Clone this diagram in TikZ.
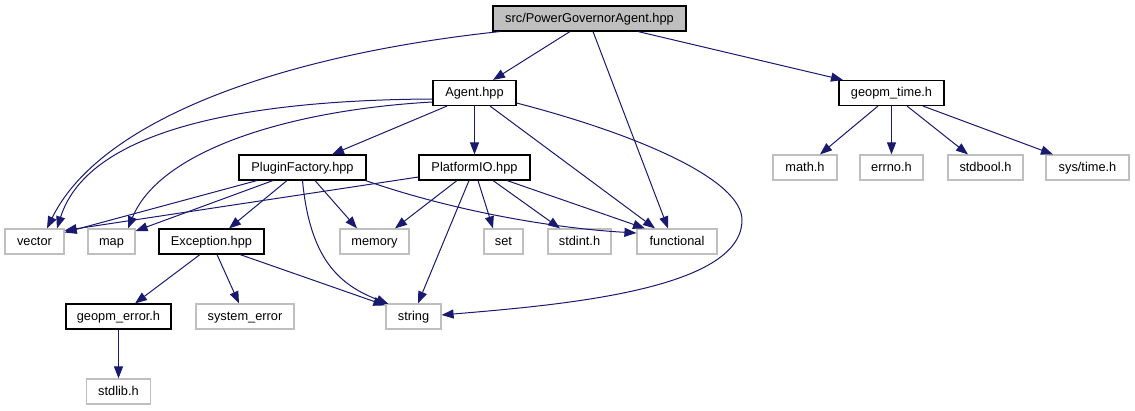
\documentclass[tikz,border=0pt]{standalone}
\usepackage{fontspec}
\setmainfont{Liberation Sans}
\usetikzlibrary{arrows.meta}
\definecolor{edgeblue}{HTML}{191970}
\definecolor{lightgray}{HTML}{BFBFBF}
\begin{document}
\begin{tikzpicture}[x=1pt,y=-1pt,
  box/.style={draw=black, fill=white, line width=1.1pt, minimum height=25pt, inner sep=0pt, text height=10.5pt, text depth=2.5pt, font=\fontsize{12.8}{15}\selectfont},
  ext/.style={box, draw=lightgray, line width=1.2pt},
  dep/.style={draw=edgeblue, line width=1pt, -{Triangle[length=12pt,width=9pt]}}]
\useasboundingbox (0,0) rectangle (1135,411);
% row 1
\node[box, fill=lightgray, minimum width=193pt] (root) at (589.5,18.5) {src/PowerGovernorAgent.hpp};
% row 2
\node[box, minimum width=83pt] (agent) at (474.5,93) {Agent.hpp};
\node[box, minimum width=105pt] (gtime) at (891.5,93) {geopm\_time.h};
% row 3
\node[box, minimum width=127pt] (pf) at (302.5,167.5) {PluginFactory.hpp};
\node[box, minimum width=111pt] (pio) at (474.5,167.5) {PlatformIO.hpp};
\node[ext, minimum width=64pt] (math) at (805,167.5) {math.h};
\node[ext, minimum width=63pt] (errno) at (891.5,167.5) {errno.h};
\node[ext, minimum width=75pt] (stdbool) at (985.5,167.5) {stdbool.h};
\node[ext, minimum width=83pt] (systime) at (1087.5,167.5) {sys/time.h};
% row 4
\node[ext, minimum width=59pt] (vector) at (34.5,241.5) {vector};
\node[ext, minimum width=47pt] (map) at (111.5,241.5) {map};
\node[box, minimum width=105pt] (exc) at (211.5,241.5) {Exception.hpp};
\node[ext, minimum width=69pt] (memory) at (374.5,241.5) {memory};
\node[ext, minimum width=39pt] (set) at (503.5,241.5) {set};
\node[ext, minimum width=63pt] (stdint) at (579.5,241.5) {stdint.h};
\node[ext, minimum width=80pt] (functional) at (677,241.5) {functional};
% row 5
\node[box, minimum width=105pt] (gerr) at (118.5,316.5) {geopm\_error.h};
\node[ext, minimum width=98pt] (syserr) at (245,316.5) {system\_error};
\node[ext, minimum width=55pt] (string) at (413.5,316.5) {string};
% row 6
\node[ext, minimum width=64pt] (stdlib) at (118.5,391.5) {stdlib.h};

% edges from root
\draw[dep] ([xshift=-89.5pt]root.south) .. controls (280,55) and (100,120) .. ([xshift=12.5pt]vector.north);
\draw[dep] ([xshift=-19.5pt]root.south) -- ([xshift=18.5pt]agent.north);
\draw[dep] ([xshift=3.5pt]root.south) -- ([xshift=-9pt]functional.north);
\draw[dep] ([xshift=48.5pt]root.south) -- ([xshift=-48.5pt]gtime.north);
% edges from Agent
\draw[dep] ([yshift=-6pt]agent.west) .. controls (260,100) and (90,125) .. ([xshift=22.5pt]vector.north);
\draw[dep] ([yshift=-9pt]agent.west) .. controls (290,110) and (160,150) .. ([xshift=16.5pt]map.north);
\draw[dep] ([xshift=-27.5pt]agent.south) -- ([xshift=29.5pt]pf.north);
\draw[dep] (agent.south) -- (pio.north);
\draw[dep] ([xshift=15.5pt]agent.south) -- ([xshift=-22pt]functional.north);
\draw[dep] ([yshift=-10pt]agent.east) .. controls (640,135) and (742,180) .. (742,220)
  .. controls (742,290) and (560,305) .. ([yshift=1.5pt]string.east);
% edges from PluginFactory
\draw[dep] ([xshift=-45.5pt]pf.south) -- ([yshift=9pt]vector.east);
\draw[dep] ([xshift=-29.5pt]pf.south) -- ([yshift=10.5pt]map.east);
\draw[dep] ([xshift=-15.5pt]pf.south) -- ([xshift=17.5pt]exc.north);
\draw[dep] ([xshift=12.5pt]pf.south) -- ([xshift=-17.5pt]memory.north);
\draw[dep] (pf.south) .. controls (310,260) and (340,285) .. ([xshift=3pt,yshift=-0.5pt]string.north west);
\draw[dep] ([xshift=-1pt]pf.south east) .. controls (450,210) and (550,228) .. ([yshift=8.5pt]functional.west);
% edges from PlatformIO
\draw[dep] ([yshift=-9.5pt]pio.west) -- ([yshift=11pt]vector.east);
\draw[dep] ([xshift=-17.5pt]pio.south) -- ([xshift=20.5pt]memory.north);
\draw[dep] ([xshift=3.5pt]pio.south) -- ([xshift=-10.5pt]set.north);
\draw[dep] ([xshift=18.5pt]pio.south) -- ([xshift=-19.5pt]stdint.north);
\draw[dep] ([xshift=32.5pt]pio.south) -- ([xshift=-32pt]functional.north);
\draw[dep] ([xshift=-5.5pt]pio.south) -- ([xshift=4.5pt]string.north);
% edges from Exception
\draw[dep] ([xshift=-11.5pt]exc.south) -- ([xshift=16.5pt]gerr.north);
\draw[dep] ([xshift=5.5pt]exc.south) -- ([xshift=-6pt]syserr.north);
\draw[dep] ([xshift=28.5pt]exc.south) -- ([yshift=-2pt]string.north west);
% geopm_error
\draw[dep] (gerr.south) -- (stdlib.north);
% geopm_time
\draw[dep] ([xshift=-13.5pt]gtime.south) -- ([xshift=15pt]math.north);
\draw[dep] (gtime.south) -- (errno.north);
\draw[dep] ([xshift=15.5pt]gtime.south) -- ([xshift=-17.5pt]stdbool.north);
\draw[dep] ([xshift=31.5pt]gtime.south) -- ([xshift=-34.5pt]systime.north);
\end{tikzpicture}
\end{document}
